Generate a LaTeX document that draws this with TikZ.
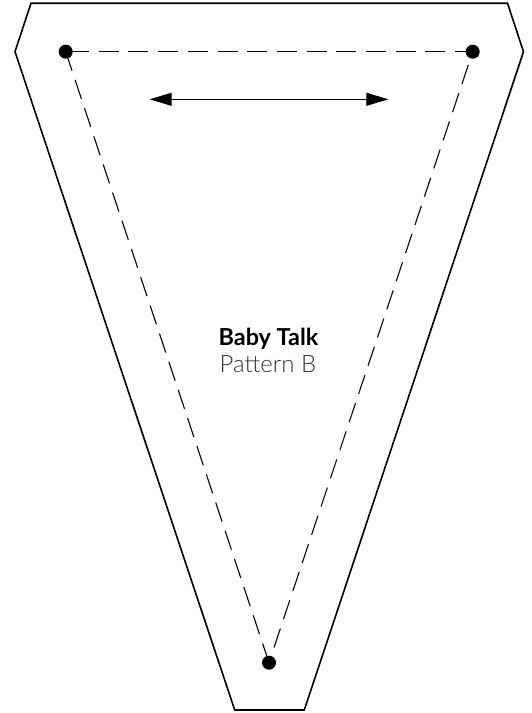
\documentclass[tikz,border=0pt]{standalone}
\usepackage{fontspec}
\setmainfont{Lato}
\newfontfamily\patternfont[UprightFont=* Light]{Lato}
\usetikzlibrary{arrows.meta}

\begin{document}
\begin{tikzpicture}[%
x=1pt,y=-1pt,
dot/.style={circle,fill=black,inner sep=0pt,minimum size=14pt},
cutline/.style={color=black,line width=1.6pt,line join=miter},
sewline/.style={color=black,line width=1.1pt,dash pattern=on 20pt off 9.7pt},
grainline/.style={color=black,line width=1.1pt,{Triangle[length=22pt,width=13pt]}-{Triangle[length=22pt,width=13pt]}},
]
\useasboundingbox (0,0) rectangle (532,713);
%% outline;
\coordinate (topleft) at (31,3.2);
\coordinate (topright) at (507.5,3.2);
\coordinate (right) at (523.5,51.7);
\coordinate (botright) at (304.3,710);
\coordinate (botleft) at (234.7,710);
\coordinate (left) at (15,51.7);
\draw [cutline] (topleft) -- (topright) -- (right) -- (botright) -- (botleft) -- (left) -- cycle;
%% point;
\node [dot] (dotleft) at (65.7,51.7) {};
\node [dot] (dotright) at (472.7,51.7) {};
\node [dot] (dotbottom) at (269,662.7) {};
%% seam;
\draw [sewline,dash phase=26.4pt] (dotleft.center) -- (dotright.center);
\draw [sewline] (dotleft.center) -- (dotbottom.center);
\draw [sewline,dash phase=15.7pt] (dotright.center) -- (dotbottom.center);
%% grain;
\coordinate (grainleft) at (149.7,99.3);
\coordinate (grainright) at (388.3,99.3);
\draw [grainline] (grainleft) -- (grainright);
%% label;
\node [font=\fontsize{23.4}{25}\selectfont\bfseries,inner sep=0pt] (title) at (268.5,339) {Baby Talk};
\node [font=\fontsize{24}{26}\selectfont\patternfont,text=black!80,inner sep=0pt] (subtitle) at (268,364) {Pattern B};
\end{tikzpicture}
\end{document}
